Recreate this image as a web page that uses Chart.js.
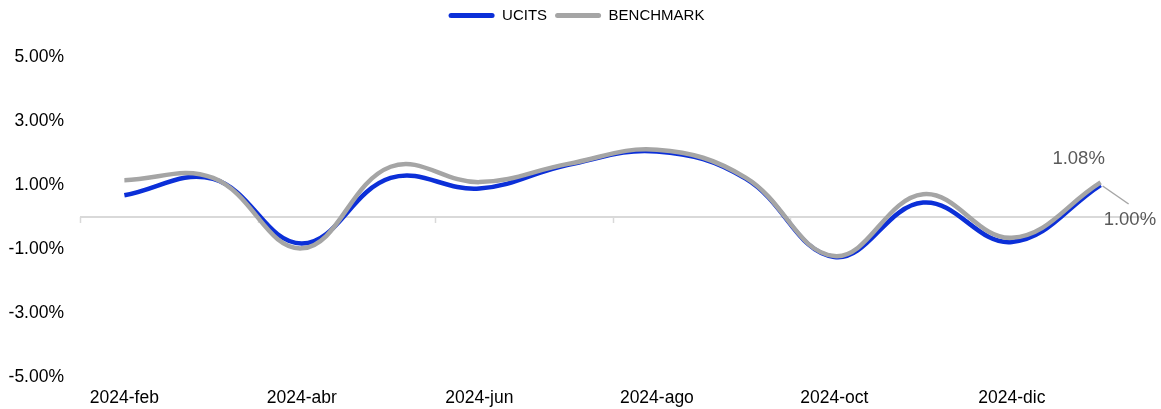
<!DOCTYPE html>
<html>
<head>
<meta charset="utf-8">
<script src="https://cdn.jsdelivr.net/npm/chart.js@4.4.1/dist/chart.umd.min.js"></script>
<style>
  html, body { margin: 0; padding: 0; background: #fff; }
  #wrap { width: 1161px; height: 409px; }
</style>
</head>
<body>
<div id="wrap"><canvas id="perfChart"></canvas></div>
<script>
const months = ['2024-feb', '2024-mar', '2024-abr', '2024-may', '2024-jun', '2024-jul',
                '2024-ago', '2024-sep', '2024-oct', '2024-nov', '2024-dic', '2025-ene'];
const ucits = [0.68, 1.19, -0.83, 1.22, 0.89, 1.63, 2.05, 1.20, -1.25, 0.45, -0.78, 1.00];
const benchmark = [1.15, 1.22, -0.98, 1.57, 1.09, 1.66, 2.10, 1.23, -1.22, 0.71, -0.65, 1.08];
const yTicks = [-5, -3, -1, 0, 1, 3, 5];

const BLUE = '#0b2fd8';
const GREY = '#a5a5a5';
const AXIS = '#d9d9d9';
const FONT = "'Liberation Sans', Arial, sans-serif";

const fmt = v => v.toFixed(2) + '%';

// extra room between the legend and the plot
const legendGap = {
  id: 'legendGap',
  beforeInit(chart) {
    const fit = chart.legend.fit;
    chart.legend.fit = function () {
      fit.bind(chart.legend)();
      this.height += 24;
    };
  }
};

// small tick marks under the zero line, every second month boundary
const zeroTicks = {
  id: 'zeroTicks',
  beforeDatasetsDraw(chart) {
    const { ctx, scales: { x, y } } = chart;
    const half = (x.getPixelForValue(1) - x.getPixelForValue(0)) / 2;
    const y0 = y.getPixelForValue(0);
    ctx.save();
    ctx.strokeStyle = AXIS;
    ctx.lineWidth = 1.5;
    for (let i = 0; i < months.length; i += 2) {
      const px = Math.round(x.getPixelForValue(i) - half) + 0.5;
      ctx.beginPath();
      ctx.moveTo(px, y0);
      ctx.lineTo(px, y0 + 6);
      ctx.stroke();
    }
    ctx.restore();
  }
};

// value labels on the last point of each series
const endLabels = {
  id: 'endLabels',
  afterDatasetsDraw(chart) {
    const ctx = chart.ctx;
    const last = months.length - 1;
    const u = chart.getDatasetMeta(0).data[last];
    const b = chart.getDatasetMeta(1).data[last];
    ctx.save();
    ctx.font = '18.5px ' + FONT;
    ctx.fillStyle = '#595959';
    ctx.textBaseline = 'middle';
    ctx.textAlign = 'center';
    ctx.fillText(fmt(benchmark[last]), b.x - 22, b.y - 24);

    ctx.strokeStyle = '#a6a6a6';
    ctx.lineWidth = 1.5;
    ctx.beginPath();
    ctx.moveTo(u.x + 2, u.y + 1);
    ctx.lineTo(u.x + 28, u.y + 19);
    ctx.stroke();
    ctx.textAlign = 'left';
    ctx.fillText(fmt(ucits[last]), u.x + 3, u.y + 35);
    ctx.restore();
  }
};

new Chart(document.getElementById('perfChart'), {
  type: 'line',
  data: {
    labels: months,
    datasets: [
      {
        label: 'UCITS',
        data: ucits,
        borderColor: BLUE,
        backgroundColor: BLUE,
        borderWidth: 4.5,
        pointRadius: 0,
        tension: 0.4,
        order: 1
      },
      {
        label: 'BENCHMARK',
        data: benchmark,
        borderColor: GREY,
        backgroundColor: GREY,
        borderWidth: 4.5,
        pointRadius: 0,
        tension: 0.4,
        order: 0
      }
    ]
  },
  options: {
    responsive: true,
    maintainAspectRatio: false,
    animation: false,
    layout: { padding: { left: 8, right: 16, top: 0, bottom: 0 } },
    plugins: {
      tooltip: { enabled: false },
      legend: {
        position: 'top',
        labels: {
          boxWidth: 46,
          boxHeight: 5,
          padding: 8,
          color: '#000',
          font: { family: FONT, size: 15 },
          useBorderRadius: true,
          borderRadius: 2.5,
          sort: (a, b) => a.datasetIndex - b.datasetIndex,
          generateLabels(chart) {
            return Chart.defaults.plugins.legend.labels.generateLabels(chart)
              .map(item => ({ ...item, lineWidth: 0 }));
          }
        }
      }
    },
    scales: {
      x: {
        offset: true,
        grid: { display: false, drawTicks: false },
        border: { display: false },
        afterFit: s => { s.paddingLeft = 0; s.paddingRight = 0; s.height = 32; },
        ticks: {
          autoSkip: false,
          maxRotation: 0,
          padding: 11,
          color: '#000',
          font: { family: FONT, size: 17.5 },
          callback: (v, i) => (i % 2 === 0 ? months[i] : '')
        }
      },
      y: {
        min: -5,
        max: 5,
        afterBuildTicks: s => { s.ticks = yTicks.map(v => ({ value: v })); },
        afterFit: s => { s.paddingTop = 0; s.paddingBottom = 0; s.width = 72; },
        grid: {
          drawTicks: false,
          lineWidth: 2,
          color: c => (c.tick && c.tick.value === 0 ? AXIS : 'transparent')
        },
        border: { display: false },
        ticks: {
          padding: 16,
          color: '#000',
          font: { family: FONT, size: 17.5 },
          callback: v => (v === 0 ? '' : fmt(v))
        }
      }
    }
  },
  plugins: [legendGap, zeroTicks, endLabels]
});
</script>
</body>
</html>
